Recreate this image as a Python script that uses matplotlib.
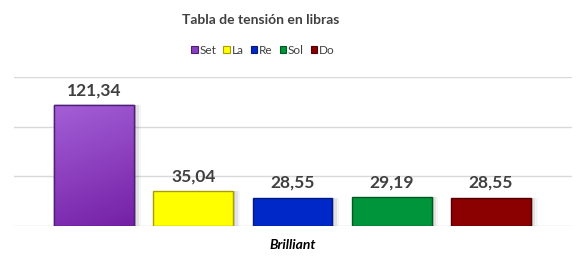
import numpy as np
import matplotlib
matplotlib.use("Agg")
import matplotlib.pyplot as plt
from matplotlib.patches import Patch
from matplotlib.colors import LinearSegmentedColormap

plt.rcParams['font.family'] = ['Lato', 'DejaVu Sans']

notes = ['Set', 'La', 'Re', 'Sol', 'Do']
tension = [121.34, 35.04, 28.55, 29.19, 28.55]
labels = ['121,34', '35,04', '28,55', '29,19', '28,55']
colors = ['#8a3fc0', '#ffff00', '#0028c8', '#00953a', '#8b0000']
edges = ['#4e1f78', '#a89c00', '#001a80', '#005a20', '#500000']

fig = plt.figure(figsize=(5.86, 2.65), dpi=100)
ax = fig.add_axes([14/586, 39/265, 558/586, 149/265])

x = np.arange(len(notes))
w = 0.806

# soft shadow on the right
for k, a in enumerate([0.10, 0.07, 0.04]):
    off = 0.02 + 0.025 * k
    ax.bar(x + off, tension, width=w, color='black', alpha=a, zorder=2, linewidth=0)

bars = ax.bar(x, tension, width=w, color=colors, edgecolor=edges, linewidth=1, zorder=3)

# gradient on the purple bar (light top-left, darker bottom-right)
b = bars[0]
cmap = LinearSegmentedColormap.from_list('p', ['#a45fd6', '#7420a6'])
grad = (1 - np.linspace(0, 1, 100)).reshape(-1, 1) * 0.8 + np.linspace(0, 0.2, 50).reshape(1, -1)
im = ax.imshow(grad, cmap=cmap, aspect='auto', zorder=3.5, vmin=0, vmax=1,
               extent=[b.get_x(), b.get_x() + b.get_width(), 0, b.get_height()],
               origin='lower')
im.set_clip_path(b)
ax.bar(x[:1], tension[:1], width=w, color='none', edgecolor=edges[0], linewidth=1, zorder=3.6)

for xi, v, lab in zip(x, tension, labels):
    ax.text(xi, v + 7, lab, ha='center', va='bottom', fontsize=12.5,
            fontweight='bold', color='#404040', zorder=5)

ax.set_xlim(-0.81, 4.82)
ax.set_ylim(0, 150)
ax.set_yticks([0, 50, 100, 150])
ax.yaxis.grid(True, color='#d9d9d9', linewidth=1, zorder=0)
ax.set_axisbelow(True)
ax.tick_params(left=False, bottom=False, labelleft=False, labelbottom=False)
for s in ax.spines.values():
    s.set_visible(False)

fig.text(261/586, 1 - 20/265, 'Tabla de tensión en libras', ha='center', va='center',
         fontsize=10, fontweight='bold', color='#404040')
fig.text(293/586, 1 - 245/265, 'Brilliant', ha='center', va='center',
         fontsize=10, fontweight='bold', style='italic', color='black')

handles = [Patch(facecolor=c, edgecolor=e, linewidth=0.8) for c, e in zip(colors, edges)]
fig.legend(handles, notes, loc='center', bbox_to_anchor=(263/586, 1 - 50/265), ncol=5,
           frameon=False, fontsize=8.5, handlelength=0.55, handleheight=0.55,
           handletextpad=0.15, columnspacing=0.6, labelcolor='#404040')

fig.savefig('out.png', dpi=100)
